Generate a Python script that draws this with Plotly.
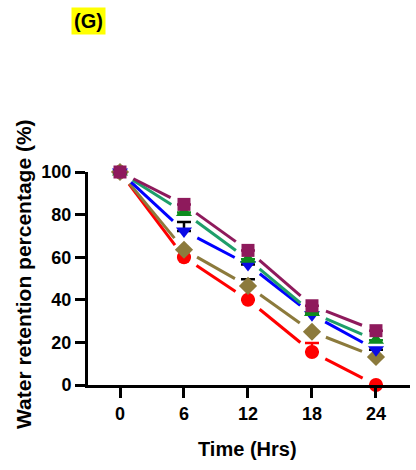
import math
import plotly.graph_objects as go

# ---- data ----
time_hrs = [0, 6, 12, 18, 24]
series_names = ["S1", "S2", "S3", "S4", "S5"]
red_vals = [100, 60, 40, 15.5, 0]
olive_vals = [100, 63.5, 46.5, 25, 13.2]
blue_vals = [100, 72.3, 56.6, 33, 16.6]
green_vals = [100, 81, 59, 34, 21]
purple_vals = [100, 84.8, 63.2, 37.2, 25.5]
red_err = [0, 0, 0, 4.2, 0]
olive_err = [0, 0, 3.1, 0, 0]
blue_err = [0, 4.2, 0, 0, 0]
green_err = [0, 0, 0, 0, 0]
purple_err = [0, 0, 0, 0, 0]
x_ticks = [0, 6, 12, 18, 24]
y_ticks = [0, 20, 40, 60, 80, 100]

# ---- layout geometry ----
W, H = 416, 470
ML, MR, MT, MB = 88, 6, 172, 85
XR = [-3.0, 27.19]
YR = [0, 100]
PW = W - ML - MR
PH = H - MT - MB
FONT = "Liberation Sans, Arial, sans-serif"


def to_px(x, y):
    px = (x - XR[0]) / (XR[1] - XR[0]) * PW
    py = (y - YR[0]) / (YR[1] - YR[0]) * PH
    return px, py


def to_data(px, py):
    return (px / PW * (XR[1] - XR[0]) + XR[0],
            py / PH * (YR[1] - YR[0]) + YR[0])


def gapped(xs, ys, gap=15):
    ox, oy = [], []
    for i in range(len(xs) - 1):
        ax, ay = to_px(xs[i], ys[i])
        bx, by = to_px(xs[i + 1], ys[i + 1])
        dx, dy = bx - ax, by - ay
        L = math.hypot(dx, dy)
        ux, uy = dx / L, dy / L
        s = to_data(ax + ux * gap, ay + uy * gap)
        e = to_data(bx - ux * gap, by - uy * gap)
        ox += [s[0], e[0], None]
        oy += [s[1], e[1], None]
    return ox, oy


specs = [
    (red_vals, red_err, "#FF0000", "#FF0000", "#FF0000", "circle", 14),
    (olive_vals, olive_err, "#8C7A3C", "#8C7A3C", "#000000", "diamond", 14),
    (blue_vals, blue_err, "#0000FF", "#0A0AE6", "#000000", "triangle-down", 14),
    (green_vals, green_err, "#1E9E6A", "#0E8C1E", "#0E8C1E", "triangle-up", 14),
    (purple_vals, purple_err, "#8E1A5C", "#8E1A5C", "#8E1A5C", "square", 13),
]

fig = go.Figure()
for (vals, err, lc, mc, ec, sym, sz), name in zip(specs, series_names):
    gx, gy = gapped(time_hrs, vals)
    fig.add_trace(go.Scatter(x=gx, y=gy, mode="lines",
                             line=dict(color=lc, width=3),
                             showlegend=False, hoverinfo="skip",
                             cliponaxis=False))
for (vals, err, lc, mc, ec, sym, sz), name in zip(specs, series_names):
    fig.add_trace(go.Scatter(
        x=time_hrs, y=vals, mode="markers", name=name,
        marker=dict(color=mc, symbol=sym, size=sz, line=dict(width=0)),
        error_y=dict(type="data", array=err, arrayminus=[0] * len(err),
                     color=ec, thickness=2.5, width=7, visible=True),
        showlegend=False, cliponaxis=False))

axis_common = dict(showgrid=False, zeroline=False, showline=True,
                   linecolor="black", linewidth=3, ticks="outside",
                   ticklen=10, tickwidth=3, tickcolor="black",
                   automargin=False,
                   tickfont=dict(family=FONT, size=18, color="black",
                                 weight="bold"))

fig.update_layout(
    width=W, height=H,
    margin=dict(l=ML, r=MR, t=MT, b=MB, pad=0, autoexpand=False),
    paper_bgcolor="white", plot_bgcolor="white",
    xaxis=dict(range=XR, tickvals=x_ticks, ticktext=[str(v) for v in x_ticks],
               **axis_common),
    yaxis=dict(range=YR, tickvals=y_ticks, ticktext=[str(v) for v in y_ticks],
               **axis_common),
)


def paper(px, py):
    return (px - ML) / PW, (H - MB - py) / PH


ax_, ay_ = paper(88.5, 21.5)
fig.add_annotation(x=ax_, y=ay_, xref="paper", yref="paper",
                   text="<b>(G)</b>", showarrow=False,
                   font=dict(family=FONT, size=20, color="black"),
                   bgcolor="#FFFF00", borderpad=2,
                   xanchor="center", yanchor="middle")
tx, ty = paper(247, 449)
fig.add_annotation(x=tx, y=ty, xref="paper", yref="paper",
                   text="<b>Time (Hrs)</b>", showarrow=False,
                   font=dict(family=FONT, size=20, color="black"),
                   xanchor="center", yanchor="middle")
yx, yy = paper(23, 274)
fig.add_annotation(x=yx, y=yy, xref="paper", yref="paper",
                   text="<b>Water retention percentage (%)</b>",
                   showarrow=False, textangle=-90,
                   font=dict(family=FONT, size=21, color="black"),
                   xanchor="center", yanchor="middle")

fig.write_html("out.html",
               config={"displayModeBar": False},
               post_script="document.body.style.margin='0';"
                           "document.body.style.padding='0';")
